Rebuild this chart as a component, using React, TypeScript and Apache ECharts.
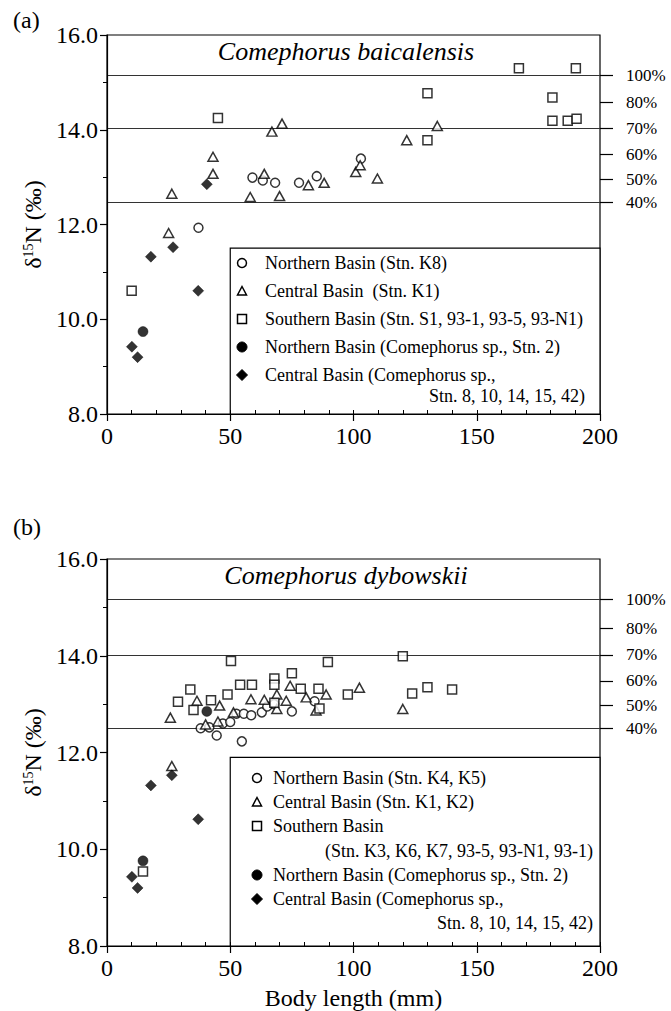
import React, { useEffect, useRef } from "react";
import * as echarts from "echarts";

const FONT = '"Liberation Serif", "Times New Roman", Times, serif';

// ---------- Panel (a): Comephorus baicalensis ----------
const aNorthern = [
  [37.1, 11.93], [59.0, 12.99], [63.2, 12.93], [68.2, 12.88], [77.9, 12.88], [85.1, 13.02], [103.0, 13.39],
];
const aCentral = [
  [25.0, 11.82], [26.3, 12.65], [43.0, 13.43], [43.0, 13.07], [58.1, 12.58], [63.8, 13.07], [66.9, 13.96],
  [71.0, 14.13], [70.0, 12.6], [81.7, 12.83], [88.1, 12.88], [100.9, 13.11], [102.7, 13.25], [109.7, 12.97],
  [121.6, 13.78], [134.0, 14.08],
];
const aSouthern = [
  [10.0, 10.6], [45.0, 14.25], [130.0, 14.77], [130.0, 13.78], [167.1, 15.3], [190.2, 15.3], [180.7, 14.68],
  [180.7, 14.19], [186.9, 14.19], [190.5, 14.23],
];
const aSpNorth = [[14.6, 9.74]];
const aSpCentral = [
  [10.1, 9.42], [12.4, 9.2], [17.8, 11.32], [26.8, 11.52], [37.0, 10.6], [40.5, 12.85],
];

// ---------- Panel (b): Comephorus dybowskii ----------
const bNorthern = [
  [38, 12.5], [41.5, 12.52], [44.5, 12.35], [47, 12.6], [50, 12.63], [52.5, 12.8], [55.5, 12.8],
  [54.7, 12.23], [58.5, 12.77], [62.8, 12.83], [65, 12.95], [67.8, 13.0], [75, 12.85], [84.2, 13.06],
];
const bCentral = [
  [25.7, 12.72], [26.3, 11.72], [36.5, 13.07], [40, 12.58], [45, 12.64], [45.7, 12.97], [51.3, 12.83],
  [58.4, 13.1], [63.8, 13.09], [68.9, 13.2], [68.9, 12.9], [72.7, 13.07], [74.3, 13.38], [80.8, 13.14],
  [84.8, 12.87], [88.9, 13.2], [102.4, 13.34], [120, 12.9],
];
const bSouthern = [
  [14.6, 9.54], [28.8, 13.05], [33.8, 13.3], [35.1, 12.88], [42.2, 13.08], [48.9, 13.2], [50.3, 13.89],
  [54, 13.4], [58.8, 13.4], [67.9, 13.53], [67.9, 13.4], [67.9, 13.03], [75, 13.64], [78.6, 13.32],
  [85.8, 13.32], [86.2, 12.91], [89.6, 13.87], [97.7, 13.2], [120, 13.99], [123.8, 13.22], [130, 13.35],
  [140, 13.3],
];
const bSpNorth = [[14.6, 9.76], [40.5, 12.85]];
const bSpCentral = [[10.1, 9.43], [12.4, 9.2], [17.8, 11.32], [26.3, 11.53], [37, 10.62]];

// ---------- axes / reference levels ----------
const X_MIN = 0, X_MAX = 200, X_STEP = 50, X_MINOR = 10;
const Y_MIN = 8, Y_MAX = 16, Y_STEP = 2;
const pctLabels = ["100%", "80%", "70%", "60%", "50%", "40%"];
const aPctValues = [15.15, 14.57, 14.03, 13.48, 12.95, 12.46];
const bPctValues = [15.17, 14.57, 14.02, 13.48, 12.98, 12.5];
const longLineIdx = [0, 2, 5]; // 100%, 70%, 40% drawn across the plot
const aLegendTop = 11.5;
const bLegendTop = 11.9;

const aLegend = [
  "Northern Basin (Stn. K8)",
  "Central Basin  (Stn. K1)",
  "Southern Basin (Stn. S1, 93-1, 93-5, 93-N1)",
  "Northern Basin (Comephorus sp., Stn. 2)",
  "Central Basin (Comephorus sp.,",
];
const aLegendCont = "Stn. 8, 10, 14, 15, 42)";
const bLegend = [
  "Northern Basin (Stn. K4, K5)",
  "Central Basin (Stn. K1, K2)",
  "Southern Basin",
  "Northern Basin (Comephorus sp., Stn. 2)",
  "Central Basin (Comephorus sp.,",
];
const bLegendCont1 = "(Stn. K3, K6, K7, 93-5, 93-N1, 93-1)";
const bLegendCont2 = "Stn. 8, 10, 14, 15, 42)";

const GRID_LEFT = 107;
const GRID_W = 493;
const A_TOP = 35, A_H = 379;
const B_TOP = 559, B_H = 387;

function symbolGraphic(kind: string, cx: number, cy: number) {
  const s = { stroke: "#000", lineWidth: 1.5, fill: "#fff" };
  const f = { fill: "#000", stroke: "#000", lineWidth: 1 };
  if (kind === "circle") return { type: "circle", z: 100, shape: { cx, cy, r: 4.5 }, style: s };
  if (kind === "triangle")
    return { type: "polygon", z: 100, shape: { points: [[cx, cy - 4.5], [cx + 4.5, cy + 4], [cx - 4.5, cy + 4]] }, style: s };
  if (kind === "rect") return { type: "rect", z: 100, shape: { x: cx - 4.5, y: cy - 4.5, width: 9, height: 9 }, style: s };
  if (kind === "dot") return { type: "circle", z: 100, shape: { cx, cy, r: 5 }, style: f };
  return { type: "polygon", z: 100, shape: { points: [[cx, cy - 5.5], [cx + 5.5, cy], [cx, cy + 5.5], [cx - 5.5, cy]] }, style: f };
}

function legendText(text: string, x: number, y: number, align = "left") {
  return {
    type: "text", z: 100, x, y,
    style: { text, font: `18px ${FONT}`, fill: "#000", align, verticalAlign: "middle" },
  };
}

const kinds = ["circle", "triangle", "rect", "dot", "diamond"];

export default function App() {
  const ref = useRef<HTMLDivElement>(null);
  useEffect(() => {
    document.body.style.margin = "0";
    const chart = echarts.init(ref.current!, null, { renderer: "svg" });

    const openStyle = { color: "#fff", borderColor: "#000", borderWidth: 1.5 };
    const fillStyle = { color: "#000", borderColor: "#000", borderWidth: 0.5 };

    const panelSeries = (gi: number, yi: number, sets: number[][][], pct: number[], legendTop: number) => {
      const defs = [
        { symbol: "circle", size: 9, style: openStyle },
        { symbol: "triangle", size: [10, 9], style: openStyle },
        { symbol: "rect", size: 9, style: openStyle },
        { symbol: "circle", size: 10, style: fillStyle },
        { symbol: "diamond", size: 11, style: fillStyle },
      ];
      return sets.map((d, k) => {
        const s: any = {
          type: "scatter",
          xAxisIndex: gi,
          yAxisIndex: yi,
          data: d,
          symbol: defs[k].symbol,
          symbolSize: defs[k].size,
          itemStyle: defs[k].style,
          z: 10,
          silent: true,
        };
        if (k === 0) {
          s.markLine = {
            silent: true,
            symbol: "none",
            label: { show: false },
            lineStyle: { color: "#333", width: 1, type: "solid" },
            data: longLineIdx.map((i) => ({ yAxis: pct[i] })),
          };
          s.markArea = {
            silent: true,
            label: { show: false },
            itemStyle: { color: "#fff", borderColor: "#000", borderWidth: 1.2 },
            data: [[{ coord: [50, Y_MIN] }, { coord: [X_MAX, legendTop] }]],
          };
        }
        return s;
      });
    };

    const xAxisBase = (gi: number, withName: boolean) => ({
      type: "value",
      gridIndex: gi,
      position: "bottom",
      z: 30,
      min: X_MIN,
      max: X_MAX,
      interval: X_STEP,
      axisLine: { show: true, onZero: false, lineStyle: { color: "#000", width: 1.2 } },
      axisTick: { show: true, length: 7, lineStyle: { color: "#000", width: 1.2 } },
      splitLine: { show: false },
      axisLabel: { color: "#000", fontSize: 24, fontFamily: FONT, margin: 10 },
      name: withName ? "Body length (mm)" : "",
      nameLocation: "middle",
      nameGap: 40,
      nameTextStyle: { color: "#000", fontSize: 24, fontFamily: FONT },
    });

    // inward minor ticks every 10 mm
    const xAxisMinor = (gi: number) => ({
      type: "value",
      gridIndex: gi,
      position: "bottom",
      z: 30,
      offset: 0,
      min: X_MIN,
      max: X_MAX,
      interval: X_MINOR,
      axisLine: { show: false, onZero: false },
      axisTick: { show: true, inside: true, length: 4, lineStyle: { color: "#000", width: 1 } },
      axisLabel: { show: false },
      splitLine: { show: false },
    });

    const yAxisLeft = (gi: number) => ({
      type: "value",
      gridIndex: gi,
      position: "left",
      z: 30,
      min: Y_MIN,
      max: Y_MAX,
      interval: Y_STEP,
      axisLine: { show: true, onZero: false, lineStyle: { color: "#000", width: 1.2 } },
      axisTick: { show: true, length: 7, lineStyle: { color: "#000", width: 1.2 } },
      minorTick: { show: true, splitNumber: 2, length: 4, lineStyle: { color: "#000", width: 1 } },
      splitLine: { show: false },
      axisLabel: { color: "#000", fontSize: 24, fontFamily: FONT, margin: 9, formatter: (v: number) => v.toFixed(1) },
      name: "{a|δ}{b|15}{a|N (‰)}",
      nameLocation: "middle",
      nameGap: 56,
      nameRotate: 90,
      nameTextStyle: {
        color: "#000",
        rich: {
          a: { fontSize: 24, fontFamily: FONT, color: "#000" },
          b: { fontSize: 14, fontFamily: FONT, color: "#000", verticalAlign: "top" },
        },
      },
    });

    const yAxisRight = (gi: number, pct: number[]) => ({
      type: "value",
      gridIndex: gi,
      position: "right",
      z: 30,
      min: Y_MIN,
      max: Y_MAX,
      interval: Y_STEP,
      axisLine: { show: false, onZero: false },
      splitLine: { show: false },
      axisTick: { show: true, length: 13, customValues: pct, lineStyle: { color: "#000", width: 1.2 } },
      axisLabel: {
        show: true,
        customValues: pct,
        color: "#000",
        fontSize: 17,
        fontFamily: FONT,
        margin: 26,
        formatter: (v: number) => {
          let best = 0;
          pct.forEach((p, i) => { if (Math.abs(p - v) < Math.abs(pct[best] - v)) best = i; });
          return pctLabels[best];
        },
      },
    });

    const graphics: any[] = [];
    const aRows = [263, 291, 319, 347, 375];
    aRows.forEach((y, i) => {
      graphics.push(symbolGraphic(kinds[i], 242, y));
      graphics.push(legendText(aLegend[i], 265, y));
    });
    graphics.push(legendText(aLegendCont, 585, 396, "right"));
    const bRows = [778, 802, 826, 875, 899];
    bRows.forEach((y, i) => {
      graphics.push(symbolGraphic(kinds[i], 257, y));
      graphics.push(legendText(bLegend[i], 273, y));
    });
    graphics.push(legendText(bLegendCont1, 593, 851, "right"));
    graphics.push(legendText(bLegendCont2, 593, 923, "right"));

    chart.setOption({
      animation: false,
      backgroundColor: "#fff",
      title: [
        { text: "(a)", left: 8, top: 3, textStyle: { fontSize: 24, fontWeight: "normal", fontFamily: FONT, color: "#000" } },
        { text: "(b)", left: 8, top: 510, textStyle: { fontSize: 24, fontWeight: "normal", fontFamily: FONT, color: "#000" } },
        {
          text: "Comephorus baicalensis", left: 341, top: 33, textAlign: "center",
          textStyle: { fontSize: 26, fontStyle: "italic", fontWeight: "normal", fontFamily: FONT, color: "#000" },
        },
        {
          text: "Comephorus dybowskii", left: 341, top: 557, textAlign: "center",
          textStyle: { fontSize: 26, fontStyle: "italic", fontWeight: "normal", fontFamily: FONT, color: "#000" },
        },
      ],
      grid: [
        { left: GRID_LEFT, top: A_TOP, width: GRID_W, height: A_H, show: true, borderColor: "#000", borderWidth: 1.2 },
        { left: GRID_LEFT, top: B_TOP, width: GRID_W, height: B_H, show: true, borderColor: "#000", borderWidth: 1.2 },
      ],
      xAxis: [xAxisBase(0, false), xAxisBase(1, true), xAxisMinor(0), xAxisMinor(1)],
      yAxis: [yAxisLeft(0), yAxisRight(0, aPctValues), yAxisLeft(1), yAxisRight(1, bPctValues)],
      series: [
        ...panelSeries(0, 0, [aNorthern, aCentral, aSouthern, aSpNorth, aSpCentral], aPctValues, aLegendTop),
        ...panelSeries(1, 2, [bNorthern, bCentral, bSouthern, bSpNorth, bSpCentral], bPctValues, bLegendTop),
      ],
      graphic: graphics,
    });
    return () => chart.dispose();
  }, []);
  return <div ref={ref} style={{ width: 671, height: 1011 }} />;
}
